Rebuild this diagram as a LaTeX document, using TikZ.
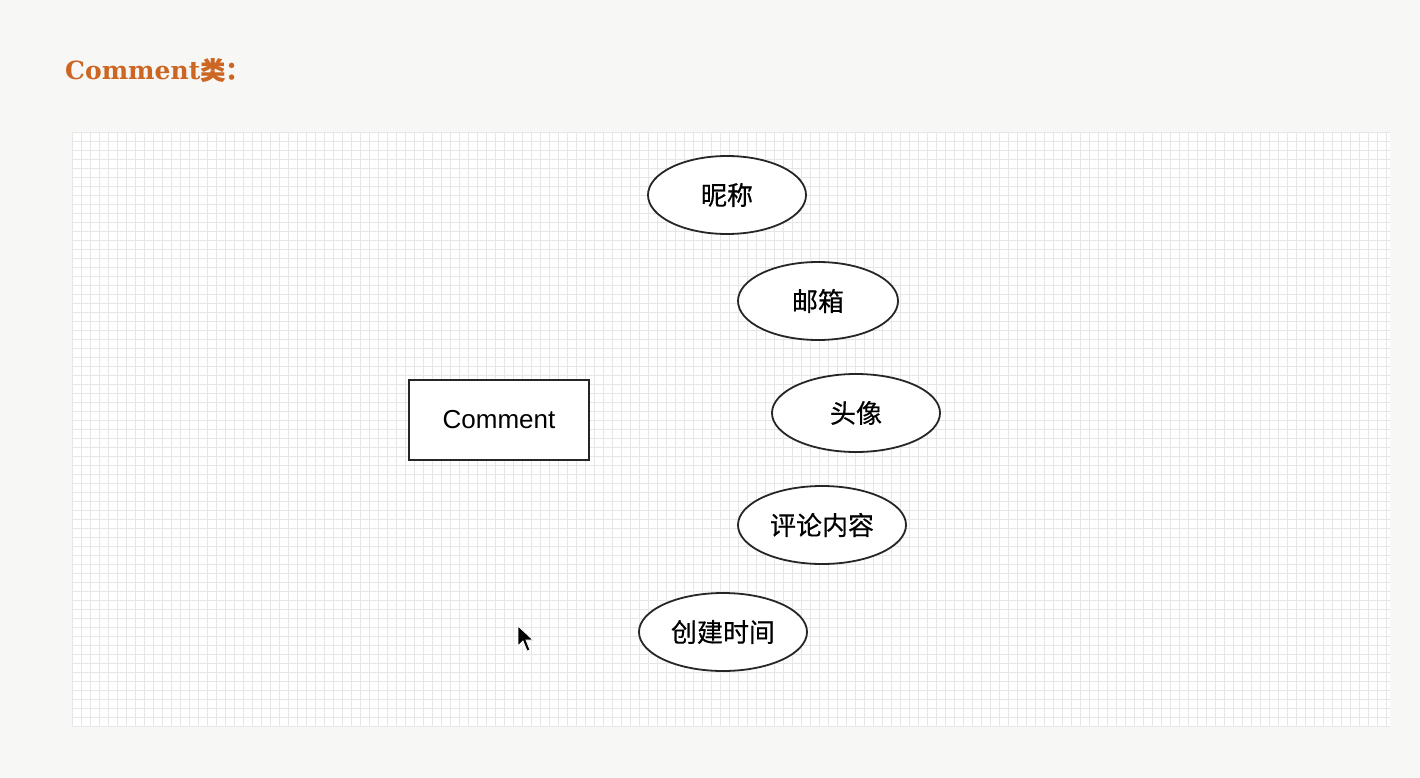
\documentclass[tikz,border=0pt]{standalone}
\usepackage{fontspec}
\setmainfont{Liberation Sans}
\newfontfamily\cjk[FakeBold=0.4]{Noto Sans CJK SC}
\newfontfamily\titleserif{DejaVu Serif}
\usetikzlibrary{shapes.geometric}
\definecolor{pagebg}{RGB}{247,247,245}
\definecolor{gridline}{RGB}{230,230,232}
\definecolor{titleorange}{RGB}{204,102,34}
\tikzset{
  attr/.style={draw=black!85, line width=1.8pt, ellipse, fill=white, minimum width=#1, minimum height=78pt, inner sep=0pt, font=\cjk\fontsize{26}{30}\selectfont},
  entity/.style={draw=black!85, line width=1.8pt, rectangle, fill=white, minimum width=180pt, minimum height=80pt, inner sep=0pt, font=\fontsize{26}{30}\selectfont},
}
\begin{document}
\begin{tikzpicture}[x=1pt,y=-1pt]
\fill[pagebg] (0,0) rectangle (1420,778);
\useasboundingbox (0,0) rectangle (1420,778);
\fill[white] (72,132) rectangle (1390,727);
\begin{scope}
\clip (72,132) rectangle (1390,727);
\foreach \i in {0,...,147} {\draw[gridline, line width=0.6pt] ({72+9*\i},132) -- ({72+9*\i},727);}
\foreach \j in {0,...,66} {\draw[gridline, line width=0.6pt] (72,{132+9*\j}) -- (1390,{132+9*\j});}
\end{scope}
\node[anchor=west, text=titleorange, inner sep=0pt] (title) at (65,70) {\fontsize{25}{30}\selectfont\bfseries\titleserif Comment\cjk 类：};
\node[entity] (comment) at (499,420) {Comment};
\node[attr=158pt] (nick) at (727,195) {昵称};
\node[attr=160pt] (mail) at (818,301) {邮箱};
\node[attr=168pt] (avatar) at (856,413) {头像};
\node[attr=168pt] (content) at (822,525) {评论内容};
\node[attr=168pt] (created) at (723,632) {创建时间};
\filldraw[black, draw=white, line width=0.8pt] (518,626) -- (518,646) -- (523,641) -- (527,651) -- (530,650) -- (526,640) -- (533,640) -- cycle;
\end{tikzpicture}
\end{document}
